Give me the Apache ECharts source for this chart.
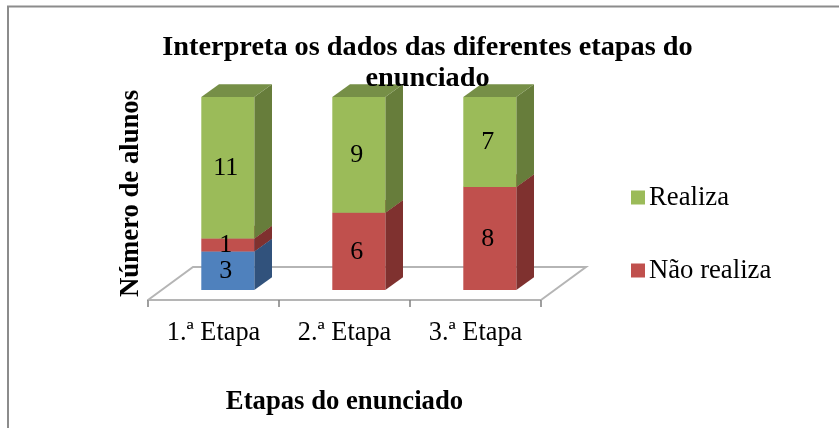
<!DOCTYPE html>
<html>
<head>
    <meta charset="utf-8">
    <title>Interpreta os dados</title>
    <script src="https://cdn.jsdelivr.net/npm/echarts@6/dist/echarts.min.js"></script>
    <style>
        html, body { margin: 0; padding: 0; background: #fff; }
        #main { width: 839px; height: 428px; }
    </style>
</head>
<body>
    <div id="main"></div>
    <script type="text/javascript">
        var etapas = ['1.ª Etapa', '2.ª Etapa', '3.ª Etapa'];
        var semLegenda = [3, 0, 0];
        var naoRealiza = [1, 6, 8];
        var realiza = [11, 9, 7];

        var fonte = '"Liberation Serif", "Times New Roman", serif';
        var myChart = echarts.init(document.getElementById('main'));

        // soma as series de baixo para empilhar as barras
        function empilha(valores, anteriores) {
            return valores.map(function (v, i) {
                var base = 0;
                anteriores.forEach(function (a) { base += a[i]; });
                return [i, base, base + v, v];
            }).filter(function (d) { return d[3] > 0; });
        }

        // barra com falso 3D: frente, lado e topo
        function barra3d(frente, lado, topo) {
            return function (params, api) {
                var dx = 17.7, dy = 12.7, desvio = 14.3;
                var larg = 53;
                var cx = api.coord([api.value(0), 0])[0] + desvio;
                var y0 = api.coord([0, api.value(1)])[1];
                var y1 = api.coord([0, api.value(2)])[1];
                var x0 = cx - larg / 2, x1 = cx + larg / 2;
                return {
                    type: 'group',
                    children: [
                        { type: 'polygon', shape: { points: [[x1, y0], [x1 + dx, y0 - dy], [x1 + dx, y1 - dy], [x1, y1]] }, style: { fill: lado } },
                        { type: 'polygon', shape: { points: [[x0, y1], [x1, y1], [x1 + dx, y1 - dy], [x0 + dx, y1 - dy]] }, style: { fill: topo } },
                        { type: 'rect', shape: { x: x0, y: y1, width: larg, height: y0 - y1 }, style: { fill: frente } },
                        { type: 'text', z2: 50, style: { x: cx - 2, y: (y0 + y1) / 2 + 0.5, text: String(api.value(3)), fill: '#000', font: '26px ' + fonte, align: 'center', verticalAlign: 'middle' } }
                    ]
                };
            };
        }

        // chao do grafico, so as tres linhas de tras
        function chao(params, api) {
            var g = params.coordSys;
            var yFrente = g.y + g.height + 10;
            var dx = 45, dy = 33;
            return {
                type: 'polyline',
                shape: { points: [
                    [g.x, yFrente],
                    [g.x + dx, yFrente - dy],
                    [g.x + g.width + dx, yFrente - dy],
                    [g.x + g.width, yFrente]
                ] },
                style: { fill: null, stroke: '#b5b5b5', lineWidth: 2 }
            };
        }

        var option = {
            animation: false,
            backgroundColor: '#fff',
            title: {
                text: 'Interpreta os dados das diferentes etapas do\nenunciado',
                left: 422.5,
                top: 27,
                textAlign: 'center',
                textStyle: { fontFamily: fonte, fontSize: 28.3, fontWeight: 'bold', color: '#000', lineHeight: 31 }
            },
            legend: {
                data: ['Realiza', 'Não realiza'],
                orient: 'vertical',
                left: 626,
                top: 179,
                itemWidth: 14,
                itemHeight: 14,
                itemGap: 46,
                icon: 'rect',
                textStyle: { fontFamily: fonte, fontSize: 26.7, color: '#000', padding: [2, 0, 0, -1] },
                selectedMode: false
            },
            grid: { left: 148, top: 97, width: 393, height: 193 },
            xAxis: {
                type: 'category',
                data: etapas,
                offset: 10,
                name: 'Etapas do enunciado',
                nameLocation: 'middle',
                nameGap: 89,
                nameTextStyle: { fontFamily: fonte, fontSize: 26.7, fontWeight: 'bold', color: '#000' },
                axisLine: { onZero: false, lineStyle: { color: '#b5b5b5', width: 2 } },
                axisTick: { show: true, alignWithLabel: false, length: 7, lineStyle: { color: '#808080', width: 1.5 } },
                axisLabel: { fontFamily: fonte, fontSize: 26.3, color: '#000', margin: 20 }
            },
            yAxis: {
                type: 'value',
                min: 0,
                max: 15,
                name: 'Número de alunos',
                nameLocation: 'middle',
                nameGap: 3,
                nameRotate: 90,
                nameTextStyle: { fontFamily: fonte, fontSize: 26.7, fontWeight: 'bold', color: '#000' },
                axisLine: { show: false },
                axisTick: { show: false },
                axisLabel: { show: false },
                splitLine: { show: false }
            },
            graphic: [{
                type: 'polyline',
                silent: true,
                shape: { points: [[8, 428], [8, 6.5], [839, 6.5]] },
                style: { fill: null, stroke: '#8c8c8c', lineWidth: 2 }
            }],
            series: [
                { type: 'custom', name: 'Chao', data: [[0]], renderItem: chao, silent: true, clip: false },
                { type: 'custom', name: 'Sem legenda', data: empilha(semLegenda, []), renderItem: barra3d('#4F81BD', '#31527C', '#3C6496'), encode: { x: 0, y: 2 }, itemStyle: { color: '#4F81BD' }, clip: false },
                { type: 'custom', name: 'Não realiza', data: empilha(naoRealiza, [semLegenda]), renderItem: barra3d('#C0504D', '#7F312F', '#964040'), encode: { x: 0, y: 2 }, itemStyle: { color: '#C0504D' }, clip: false },
                { type: 'custom', name: 'Realiza', data: empilha(realiza, [semLegenda, naoRealiza]), renderItem: barra3d('#9BBB59', '#677D3B', '#768F47'), encode: { x: 0, y: 2 }, itemStyle: { color: '#9BBB59' }, clip: false }
            ]
        };
        myChart.setOption(option);
    </script>
</body>
</html>
